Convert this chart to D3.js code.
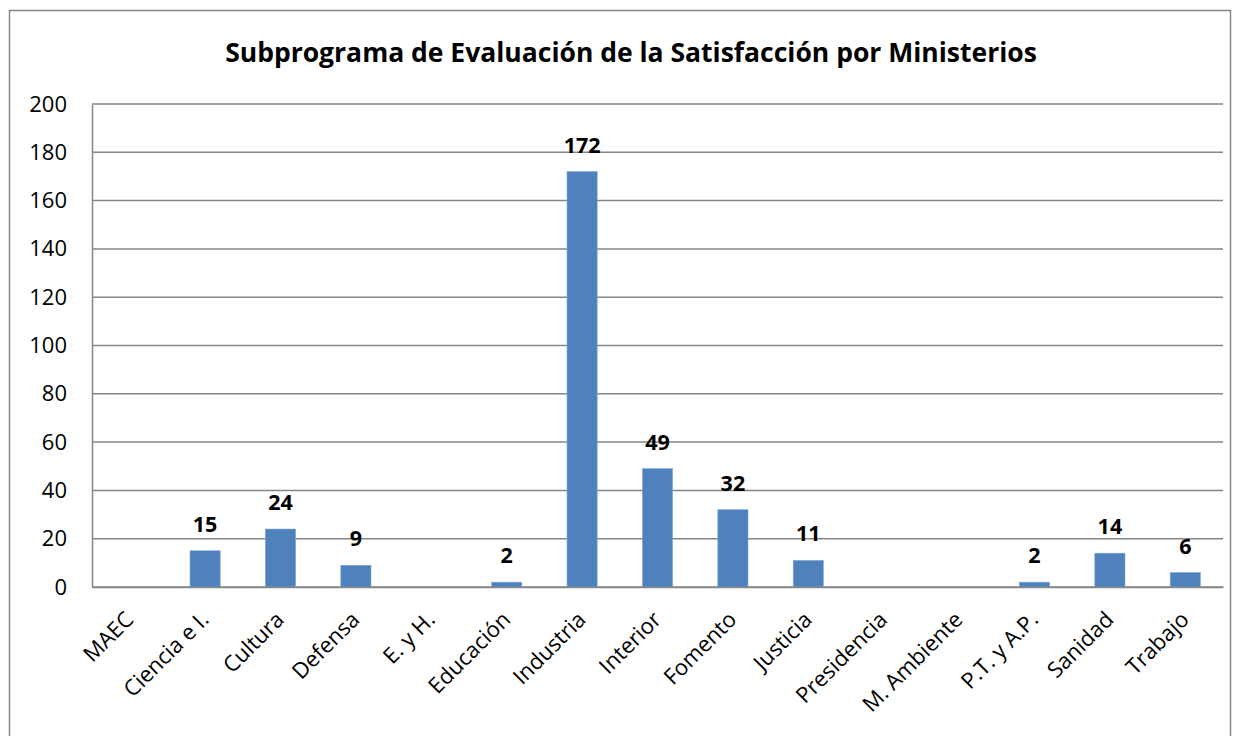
<!DOCTYPE html>
<html>
<head>
<meta charset="utf-8">
<script src="https://cdn.jsdelivr.net/npm/d3@7"></script>
<style>
  body { margin: 0; background: #fff; }
  svg text { font-family: "Open Sans", "Noto Sans", sans-serif; }
</style>
</head>
<body>
<svg id="chart" width="1239" height="736"></svg>
<script>
// data
var categories = ["MAEC", "Ciencia e I.", "Cultura", "Defensa", "E. y H.", "Educación", "Industria",
  "Interior", "Fomento", "Justicia", "Presidencia", "M. Ambiente", "P.T. y A.P.", "Sanidad", "Trabajo"];
var values = [0, 15, 24, 9, 0, 2, 172, 49, 32, 11, 0, 0, 2, 14, 6];
var yTicks = [0, 20, 40, 60, 80, 100, 120, 140, 160, 180, 200];
var title = "Subprograma de Evaluación de la Satisfacción por Ministerios";

var svg = d3.select("#chart");

var margin = {left: 92, top: 104, right: 16, bottom: 149};
var w = 1239, h = 736;

// outer chart frame
svg.append("rect")
  .attr("x", 9.5).attr("y", 10.5)
  .attr("width", 1221).attr("height", 740)
  .attr("fill", "#fff")
  .attr("stroke", "#868686")
  .attr("stroke-width", 1.5);

svg.append("text")
  .attr("x", 631).attr("y", 62)
  .attr("text-anchor", "middle")
  .attr("font-size", 26.5)
  .attr("font-weight", "bold")
  .text(title);

var x = d3.scaleBand()
  .domain(categories)
  .range([margin.left, w - margin.right])
  .paddingInner(0.6)
  .paddingOuter(0.3);

var y = d3.scaleLinear()
  .domain([0, 200])
  .range([h - margin.bottom, margin.top]);

// gridlines
svg.append("g")
  .selectAll("line")
  .data(yTicks)
  .join("line")
  .attr("x1", margin.left).attr("x2", w - margin.right)
  .attr("y1", d => y(d)).attr("y2", d => y(d))
  .attr("stroke", "#868686")
  .attr("stroke-width", 1.5);

// y axis
var yAxis = svg.append("g")
  .attr("transform", "translate(" + margin.left + ",0)")
  .call(d3.axisLeft(y).tickValues(yTicks).tickSize(0).tickPadding(25));
yAxis.select(".domain").attr("stroke", "#868686").attr("stroke-width", 1.5);
yAxis.selectAll("text").attr("font-size", 22).attr("fill", "#000")
  .style("font-family", "'Open Sans', sans-serif");

// bars
svg.append("g")
  .selectAll("rect")
  .data(values)
  .join("rect")
  .attr("x", (d, i) => x(categories[i]))
  .attr("width", x.bandwidth())
  .attr("y", d => y(d))
  .attr("height", d => y(0) - y(d))
  .attr("fill", "#4f81bd")
  .attr("stroke", "#7fa6d6")
  .attr("stroke-width", 0.6);

// value labels
svg.append("g")
  .selectAll("text")
  .data(values.map((v, i) => ({v: v, c: categories[i]})).filter(d => d.v > 0))
  .join("text")
  .attr("x", d => x(d.c) + x.bandwidth() / 2)
  .attr("y", d => y(d.v) - 19)
  .attr("text-anchor", "middle")
  .attr("font-size", 21.5)
  .attr("font-weight", "bold")
  .text(d => d.v);

// x axis
var xAxis = svg.append("g")
  .attr("transform", "translate(0," + y(0) + ")")
  .call(d3.axisBottom(x).tickSize(0).tickPadding(0));
xAxis.select(".domain").attr("stroke", "#868686").attr("stroke-width", 1.5);
xAxis.selectAll("text")
  .attr("font-size", 22)
  .attr("fill", "#000")
  .style("font-family", "'Open Sans', sans-serif")
  .attr("text-anchor", "end")
  .attr("y", 0)
  .attr("dy", 0)
  .attr("transform", "translate(5,34) rotate(-45)");
</script>
</body>
</html>
